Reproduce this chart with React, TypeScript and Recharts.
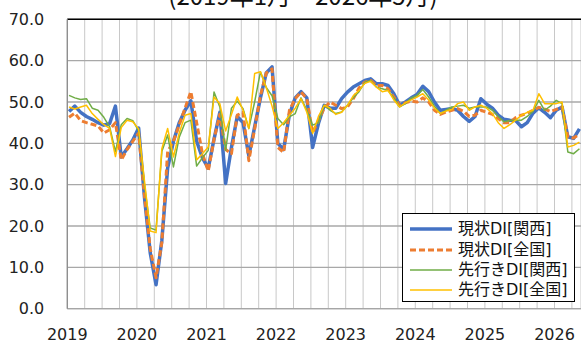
import { LineChart, Line, XAxis, YAxis, CartesianGrid, Legend, ReferenceLine } from 'recharts';

// 月次データ 2019年1月〜2026年5月
const YEAR_LABELS = ['2019', '2020', '2021', '2022', '2023', '2024', '2025', '2026'];
const Y_TICKS = [0, 10, 20, 30, 40, 50, 60, 70];

const kansaiCurrent = [
  47.7, 49.0, 47.5, 46.5, 45.8, 45.0, 44.4, 44.8, 49.0, 36.7, 38.7, 40.8,
  43.7, 27.0, 13.5, 5.8, 16.5, 34.0, 40.5, 45.0, 48.0, 50.3, 40.5, 36.5,
  34.0, 41.0, 47.5, 30.3, 39.0, 46.5, 45.0, 37.0, 44.0, 51.0, 57.0, 58.5,
  40.0, 38.5, 47.0, 51.0, 52.5, 51.0, 39.0, 44.8, 49.2, 48.5, 48.5, 50.8,
  52.4, 53.6, 54.4, 55.2, 55.6, 54.4, 54.4, 54.0, 52.0, 49.2, 50.0, 51.0,
  51.8, 53.8, 52.5, 50.0, 48.0, 48.2, 48.4, 48.0, 46.5, 45.3, 46.5, 50.8,
  49.5, 48.5, 46.8, 45.8, 45.6, 45.5, 44.0, 45.0, 47.3, 48.6, 47.5, 46.2,
  48.0, 48.8, 41.6, 41.2, 43.5,
];

const zenkokuCurrent = [
  46.3, 47.3, 45.5, 45.0, 44.6, 44.2, 42.5, 43.3, 45.0, 36.0, 38.5, 40.5,
  42.5, 27.5, 14.5, 7.5, 16.0, 38.0, 40.5, 44.5, 48.5, 52.5, 45.0, 37.5,
  33.3, 41.0, 47.0, 38.5, 37.5, 46.8, 47.5, 35.8, 43.5, 51.5, 57.0, 58.0,
  39.0, 37.8, 48.0, 50.8, 52.4, 50.8, 42.5, 45.5, 48.5, 50.0, 49.2, 48.4,
  48.8, 50.8, 53.4, 54.8, 55.2, 54.0, 54.0, 53.2, 51.2, 49.2, 49.8, 50.2,
  50.0, 51.0, 50.0, 48.0, 47.0, 47.6, 48.0, 48.4, 47.8, 46.5, 46.8, 48.0,
  47.5, 47.0, 46.0, 45.0, 45.0, 46.2, 46.8, 47.3, 48.0, 48.7, 48.3, 47.7,
  48.2, 48.8, 41.5, 41.3, 42.2,
];

const kansaiOutlook = [
  51.6, 51.0, 50.6, 50.8, 48.5, 48.0, 46.3, 44.0, 38.0, 44.5, 46.0, 45.5,
  43.0, 30.0, 19.5, 19.0, 38.0, 42.0, 34.3, 41.5, 45.0, 45.6, 34.5, 36.5,
  38.3, 52.4, 48.8, 38.3, 48.5, 50.2, 48.4, 43.6, 50.0, 57.3, 53.5, 51.5,
  46.0, 44.5, 46.4, 47.2, 51.0, 48.0, 44.4, 45.0, 49.2, 48.0, 47.2, 47.6,
  49.2, 51.0, 52.5, 54.8, 55.2, 53.6, 53.2, 52.8, 51.0, 48.8, 49.6, 51.0,
  51.6, 53.0, 51.2, 49.0, 47.2, 48.0, 48.8, 49.0, 49.2, 48.5, 48.8, 48.8,
  48.8, 48.0, 46.5, 45.2, 45.5, 45.6, 45.6, 46.5, 47.8, 50.4, 48.0, 49.0,
  50.4, 49.6, 37.9, 37.5, 38.7,
];

const zenkokuOutlook = [
  48.8, 48.3, 48.8, 49.2, 47.2, 45.8, 44.5, 43.6, 36.8, 43.8, 45.6, 45.2,
  43.5, 31.0, 18.8, 18.4, 38.7, 43.6, 36.7, 42.5, 46.8, 47.2, 36.0, 37.5,
  39.1, 51.2, 49.6, 43.0, 47.0, 51.2, 48.0, 43.6, 56.9, 57.3, 53.5, 49.0,
  43.6, 45.0, 46.8, 48.5, 50.8, 47.5, 42.4, 46.5, 49.2, 48.5, 47.0, 47.5,
  49.2, 51.5, 52.8, 54.5, 55.0, 53.6, 52.5, 52.8, 50.5, 48.8, 49.8, 50.5,
  51.2, 52.0, 50.5, 48.5, 47.2, 47.8, 48.2, 49.6, 50.0, 48.0, 48.8, 49.2,
  48.5, 47.2, 45.0, 43.6, 44.5, 45.6, 46.8, 47.5, 48.0, 52.0, 49.6, 49.6,
  49.6, 50.0, 39.1, 39.5, 40.3,
];

const SERIES = [
  { key: 'kansaiCurrent', name: '現状DI[関西]', color: '#4472C4', width: 3.5, dash: undefined },
  { key: 'zenkokuCurrent', name: '現状DI[全国]', color: '#ED7D31', width: 3, dash: '6 3' },
  { key: 'kansaiOutlook', name: '先行きDI[関西]', color: '#70AD47', width: 1.5, dash: undefined },
  { key: 'zenkokuOutlook', name: '先行きDI[全国]', color: '#FFC000', width: 1.5, dash: undefined },
];

const data = kansaiCurrent.map((v, i) => ({
  m: i,
  kansaiCurrent: v,
  zenkokuCurrent: zenkokuCurrent[i],
  kansaiOutlook: kansaiOutlook[i],
  zenkokuOutlook: zenkokuOutlook[i],
}));

// 四半期ごとの目盛（1月の位置に年ラベル）
const X_SHIFT = 0.3;
const quarterTicks = Array.from({ length: 30 }, (_, k) => k * 3 - X_SHIFT);

const tickFont = { fontFamily: '"DejaVu Sans", Verdana, sans-serif', fontSize: 16, fill: '#222' };

const LegendBox = () => (
  <div
    style={{
      border: '1.5px solid #000',
      background: '#fff',
      boxSizing: 'border-box',
      width: 173,
      height: 89,
      padding: '5px 0 0 7px',
      fontFamily: '"DejaVu Sans", "Noto Sans CJK JP", sans-serif',
      fontSize: 16,
      color: '#111',
    }}
  >
    {SERIES.map((s) => (
      <div key={s.key} style={{ display: 'flex', alignItems: 'center', height: 20.4 }}>
        <svg width={42} height={10}>
          <line x1={0} y1={5} x2={42} y2={5} stroke={s.color} strokeWidth={s.width} strokeDasharray={s.dash} />
        </svg>
        <span style={{ marginLeft: 6, lineHeight: '20px', whiteSpace: 'nowrap' }}>{s.name}</span>
      </div>
    ))}
  </div>
);

export default function App() {
  return (
    <div style={{ position: 'absolute', left: 0, top: 0, width: 581, height: 343, overflow: 'hidden', background: '#fff' }}>
      <svg width={581} height={20} style={{ position: 'absolute', left: 0, top: 0 }}>
        <text x={303} y={5} textAnchor="middle" fontFamily='"Noto Sans CJK JP", sans-serif' fontSize={24} fill="#111">
          (2019年1月～2026年5月)
        </text>
      </svg>
      <LineChart width={581} height={343} data={data} margin={{ top: 19.3, right: 0, bottom: 4.3, left: 7.3 }}>
        <CartesianGrid horizontal={false} stroke="#C8C8C8" strokeWidth={1} />
        <CartesianGrid vertical={false} stroke="#A8A8A8" strokeWidth={1.3} />
        <XAxis
          type="number"
          dataKey="m"
          domain={[-X_SHIFT, 88.27]}
          ticks={quarterTicks}
          interval={0}
          tickFormatter={(v: number) => {
            const k = Math.round((v + X_SHIFT) / 3);
            return k % 4 === 0 ? YEAR_LABELS[k / 4] ?? '' : '';
          }}
          height={30}
          tickLine={false}
          tickSize={6}
          tickMargin={14}
          axisLine={{ stroke: '#A6A6A6', strokeWidth: 1.3 }}
          tick={tickFont}
        />
        <YAxis
          domain={[0, 70]}
          ticks={Y_TICKS}
          interval={0}
          width={60}
          tickFormatter={(v: number) => v.toFixed(1)}
          tickLine={false}
          tickSize={6}
          tickMargin={17}
          axisLine={{ stroke: '#8C8C8C', strokeWidth: 1.3 }}
          tick={tickFont}
        />
        <ReferenceLine y={70} stroke="#000" strokeWidth={1.5} />
        {SERIES.map((s) => (
          <Line
            key={s.key}
            type="linear"
            dataKey={s.key}
            name={s.name}
            stroke={s.color}
            strokeWidth={s.width}
            strokeDasharray={s.dash}
            strokeLinejoin="round"
            dot={false}
            activeDot={false}
            isAnimationActive={false}
          />
        ))}
        <Legend
          layout="vertical"
          align="center"
          verticalAlign="middle"
          content={<LegendBox />}
          wrapperStyle={{ left: 402, top: 213, width: 173, height: 89 }}
        />
      </LineChart>
    </div>
  );
}
